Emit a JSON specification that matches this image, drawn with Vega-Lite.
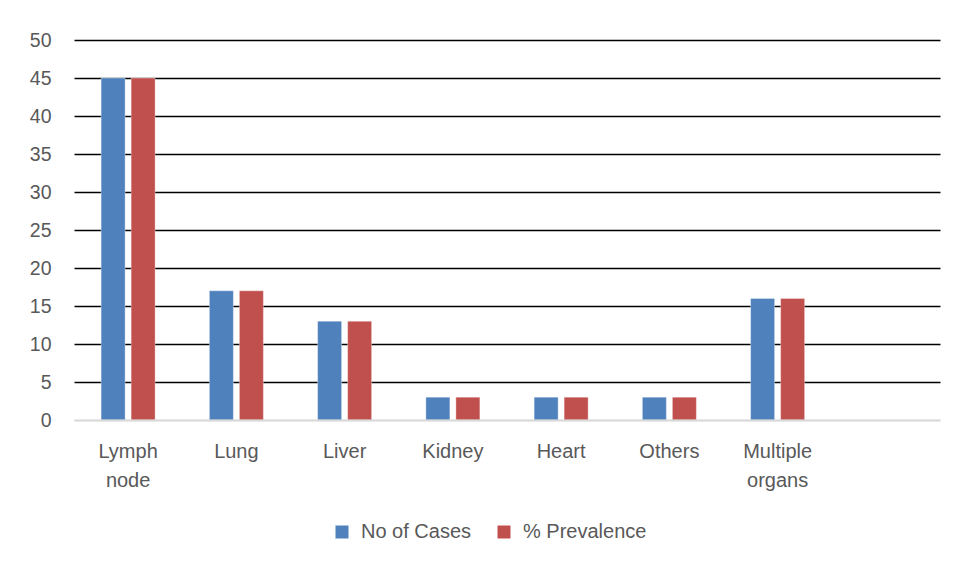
{
  "$schema": "https://vega.github.io/schema/vega-lite/v6.json",
  "width": 866,
  "height": 380,
  "autosize": {"type": "none"},
  "padding": {"left": 74, "top": 40, "right": 17, "bottom": 146},
  "background": "white",
  "data": {
    "values": [
      {"site": "Lymph node", "series": "No of Cases", "value": 45},
      {"site": "Lymph node", "series": "% Prevalence", "value": 45},
      {"site": "Lung", "series": "No of Cases", "value": 17},
      {"site": "Lung", "series": "% Prevalence", "value": 17},
      {"site": "Liver", "series": "No of Cases", "value": 13},
      {"site": "Liver", "series": "% Prevalence", "value": 13},
      {"site": "Kidney", "series": "No of Cases", "value": 3},
      {"site": "Kidney", "series": "% Prevalence", "value": 3},
      {"site": "Heart", "series": "No of Cases", "value": 3},
      {"site": "Heart", "series": "% Prevalence", "value": 3},
      {"site": "Others", "series": "No of Cases", "value": 3},
      {"site": "Others", "series": "% Prevalence", "value": 3},
      {"site": "Multiple organs", "series": "No of Cases", "value": 16},
      {"site": "Multiple organs", "series": "% Prevalence", "value": 16}
    ]
  },
  "mark": {"type": "bar", "stroke": "white", "strokeOpacity": 0.35, "strokeWidth": 1},
  "encoding": {
    "x": {
      "field": "site",
      "type": "nominal",
      "sort": null,
      "scale": {
        "domain": ["Lymph node", "Lung", "Liver", "Kidney", "Heart", "Others", "Multiple organs", " "],
        "paddingInner": 0,
        "paddingOuter": 0
      },
      "axis": {
        "title": null,
        "labelAngle": 0,
        "labelExpr": "split(datum.label, ' ')",
        "labelFont": "Liberation Sans",
        "labelFontSize": 20,
        "labelColor": "#595959",
        "labelPadding": 21,
        "labelLineHeight": 29,
        "labelBaseline": "top",
        "ticks": false,
        "domain": true,
        "domainColor": "#d9d9d9",
        "domainWidth": 2,
        "grid": false,
        "zindex": 1
      }
    },
    "xOffset": {
      "field": "series",
      "type": "nominal",
      "sort": ["No of Cases", "% Prevalence"],
      "scale": {"paddingInner": 0.2, "paddingOuter": 0.904}
    },
    "y": {
      "field": "value",
      "type": "quantitative",
      "scale": {"domain": [0, 50], "nice": false},
      "axis": {
        "title": null,
        "values": [0, 5, 10, 15, 20, 25, 30, 35, 40, 45, 50],
        "labelFont": "Liberation Sans",
        "labelFontSize": 19.5,
        "labelColor": "#595959",
        "labelPadding": 23,
        "ticks": false,
        "domain": false,
        "grid": true,
        "gridColor": {"condition": {"test": "datum.value === 0", "value": "#d9d9d9"}, "value": "black"},
        "gridWidth": 1.7,
        "zindex": 0
      }
    },
    "color": {
      "field": "series",
      "type": "nominal",
      "sort": ["No of Cases", "% Prevalence"],
      "scale": {"domain": ["No of Cases", "% Prevalence"], "range": ["#4f81bd", "#c0504d"]},
      "legend": {
        "title": null,
        "orient": "none",
        "direction": "horizontal",
        "legendX": 258,
        "legendY": 482,
        "symbolType": "square",
        "symbolSize": 169,
        "symbolStrokeWidth": 0,
        "labelFont": "Liberation Sans",
        "labelFontSize": 20,
        "labelColor": "#595959",
        "labelOffset": 9,
        "columnPadding": 22
      }
    }
  },
  "config": {"view": {"stroke": null}}
}
